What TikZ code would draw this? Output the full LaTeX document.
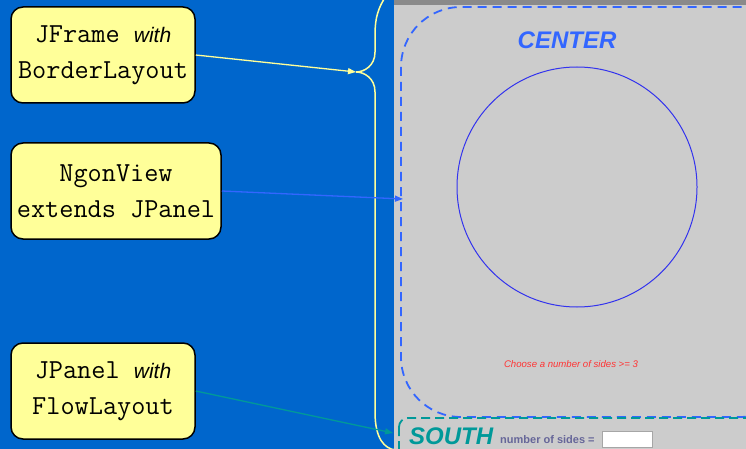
\documentclass[tikz,border=0pt]{standalone}
\usepackage{fontspec}
\setmainfont{Liberation Sans}
\usetikzlibrary{arrows.meta}
\definecolor{bgblue}{HTML}{0066CC}
\definecolor{panelgray}{HTML}{CCCCCC}
\definecolor{titlegray}{HTML}{8A8A8A}
\definecolor{noteyellow}{HTML}{FFFF99}
\definecolor{braceyellow}{HTML}{FFFF99}
\definecolor{centerblue}{HTML}{3366FF}
\definecolor{circleblue}{HTML}{3333EE}
\definecolor{southteal}{HTML}{009999}
\definecolor{labelgray}{HTML}{666699}
\definecolor{msgred}{HTML}{FF3333}
\newcommand\withword{{\rmfamily\itshape\fontsize{21}{36}\selectfont with}}
\begin{document}
\begin{tikzpicture}[x=1pt,y=-1pt,
  notebox/.style={draw=black, line width=1.5pt, fill=noteyellow, rounded corners=12pt,
    align=center, inner sep=0pt, font=\ttfamily\fontsize{27.5}{36}\selectfont},
  conn/.style={line width=1.3pt, -{Triangle[length=8pt,width=6pt]}},
]
\useasboundingbox (0,0) rectangle (746,449);
\fill[bgblue] (0,0) rectangle (746,449);
\fill[panelgray] (394,0) rectangle (746,449);
\fill[titlegray] (394,0) rectangle (746,5);
\begin{scope}
\clip (394,0) rectangle (746,449);
% center region
\draw[centerblue, line width=1.8pt, dash pattern=on 9pt off 6pt, rounded corners=60pt]
  (401,7) rectangle (800,417);
% south region
\draw[southteal, line width=1.8pt, dash pattern=on 9pt off 5pt, rounded corners=9pt]
  (399,418) rectangle (800,470);
\end{scope}

\node[font=\bfseries\itshape\fontsize{24}{24}\selectfont, text=centerblue] (center) at (567,40) {CENTER};
\node[draw=circleblue, line width=1pt, circle, minimum size=240pt, inner sep=0pt] (ngon) at (577,187) {};
\node[font=\itshape\fontsize{9.6}{10}\selectfont, text=msgred] (msg) at (571,364) {Choose a number of sides >= 3};

\node[font=\bfseries\itshape\fontsize{24}{24}\selectfont, text=southteal, anchor=base west, inner sep=0pt] (south) at (409,444) {SOUTH};
\node[font=\bfseries\fontsize{11}{12}\selectfont, text=labelgray, anchor=base west, inner sep=0pt] (sides) at (500,443) {number of sides =};
\node[draw=gray!70, fill=white, line width=0.8pt, minimum width=50pt, minimum height=16pt, inner sep=0pt] (field) at (627,439) {};

% brace
\draw[braceyellow, line width=1.5pt] (386,-4) .. controls (378,8) and (375,18) .. (375,35)
  -- (375,52) .. controls (375,66) and (364,72) .. (356,72) coordinate (tip)
  .. controls (364,72) and (375,78) .. (375,92) -- (375,412)
  .. controls (375,438) and (384,449) .. (396,450);

\node[notebox, minimum width=184pt, minimum height=96pt] (jframe) at (103,55)
  {JFrame \withword\\BorderLayout};
\node[notebox, minimum width=210pt, minimum height=96pt] (ngonview) at (116,191)
  {NgonView\\extends JPanel};
\node[notebox, minimum width=184pt, minimum height=96pt] (jpanel) at (103,391)
  {JPanel \withword\\FlowLayout};

\coordinate (centerpt) at (403,199);
\coordinate (southpt) at (393,433);
\draw[conn, braceyellow] (jframe.east) -- (tip);
\draw[conn, centerblue] (ngonview.east) -- (centerpt);
\draw[conn, southteal] (jpanel.east) -- (southpt);
\end{tikzpicture}
\end{document}
